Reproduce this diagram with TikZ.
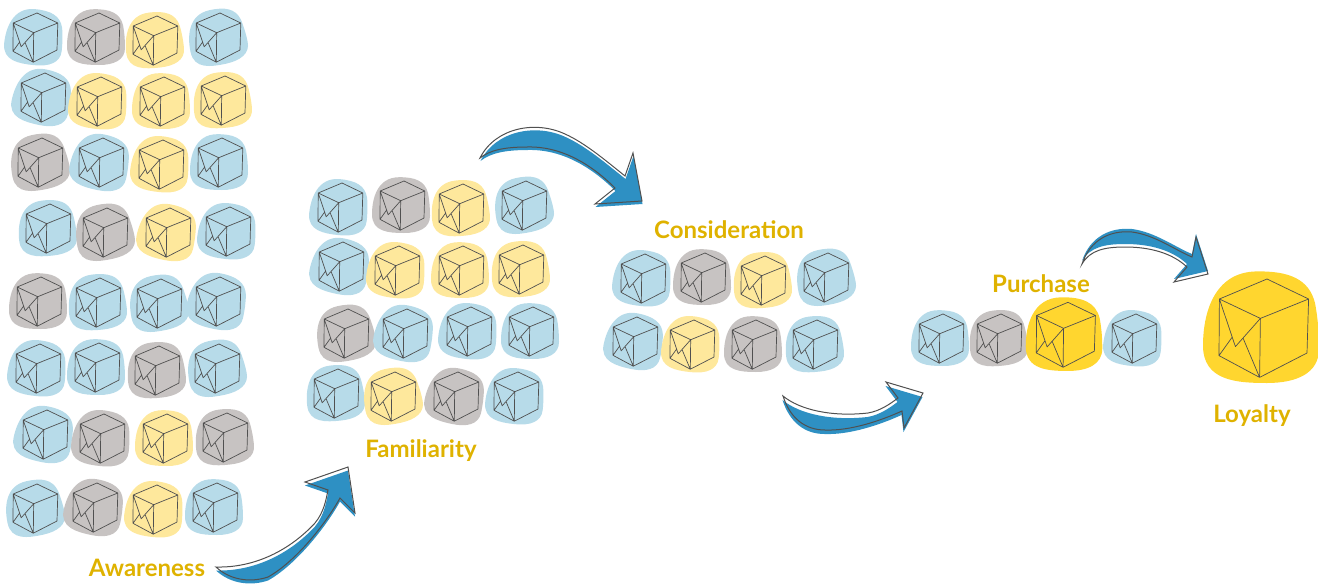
\documentclass[tikz,border=0pt]{standalone}
\usepackage{fontspec}
\setmainfont{Lato}
\definecolor{softblue}{HTML}{B7DBE9}
\definecolor{softgray}{HTML}{C7C3C2}
\definecolor{softyellow}{HTML}{FEE89C}
\definecolor{richyellow}{HTML}{FFD62F}
\definecolor{swooshblue}{HTML}{2E90C3}
\definecolor{labelgold}{HTML}{DFB200}
\definecolor{inkgray}{HTML}{505050}
\newcommand{\parcel}[5]{%
  \begin{scope}[shift={(#1,#2)},scale=#4]
    \fill[#3,rotate={#5}] (-2,-27.8) .. controls (14,-28) and (24,-24) .. (27,-12) .. controls (28.5,-4) and (29,3) .. (29,11) .. controls (29,23) and (18,28) .. (3,28) .. controls (-12,28) and (-29,27) .. (-29,9.3) .. controls (-29,-6) and (-24,-27.6) .. cycle;
    \draw[cubeline] (-20.8,-14) -- (3,-24) -- (23.8,-14) -- (-0.3,-4.3) -- cycle
      (23.8,-14) -- (23,13) -- (-0.7,25.2) -- (-21,14.3) -- (-20.8,-14)
      (-0.3,-4.3) -- (-0.7,25.2)
      (-20.8,-14) -- (-12.8,9.8) -- (-0.3,-4.3)
      (-21,14.3) -- (-14.5,5.2)
      (-9,5.5) -- (-0.7,25.2);
  \end{scope}
}
\newcommand{\swoosh}[3]{%
  \fill[white] #1;
  \fill[swooshblue,shift={(#2,#3)}] #1;
  \draw[swooshline] #1;
}
\begin{document}
\begin{tikzpicture}[
      x=1pt,y=-1pt,
      cubeline/.style={draw=inkgray,line width=0.7pt,line join=round},
      swooshline/.style={draw=inkgray,line width=1pt,line join=miter},
      stage/.style={font=\fontsize{24}{28}\selectfont\bfseries,text=labelgold,inner sep=0pt}
    ]
      \useasboundingbox (0,0) rectangle (1318,584);
      % awareness
      \foreach \px/\py/\col [count=\n] in {
        34/37/softblue,96/37/softgray,154/40/softyellow,217/37/softblue,
        42/97/softblue,98/101/softyellow,161/101/softyellow,222/100/softyellow,
        39/162/softgray,100/162/softblue,160/164/softyellow,219/162/softblue,
        47/228/softblue,104/232/softgray,167/232/softyellow,227/231/softblue,
        38/301/softgray,97/302/softblue,158/303/softblue,217/301/softblue,
        37/368/softblue,96/367/softblue,156/370/softgray,216/368/softblue,
        44/434/softblue,101/438/softgray,164/438/softyellow,224/437/softgray,
        34/508/softblue,94/507/softgray,154/509/softyellow,214/507/softblue}
        {\parcel{\px}{\py}{\col}{1}{6*(mod(\n,5)-2)}}
      % familiarity
      \foreach \px/\py/\col [count=\n] in {
        339/207/softblue,401/205/softgray,460/208/softyellow,523/205/softblue,
        340/266/softblue,396/270/softyellow,460/270/softyellow,520/269/softyellow,
        345/333/softgray,404/333/softblue,468/331/softblue,530/331/softblue,
        335/393/softblue,392/396/softyellow,455/396/softgray,515/396/softblue}
        {\parcel{\px}{\py}{\col}{1}{6*(mod(\n,5)-2)}}
      % consideration
      \foreach \px/\py/\col [count=\n] in {
        642/278/softblue,702/277/softgray,762/280/softyellow,825/277/softblue,
        634/341/softblue,691/344/softyellow,753/344/softgray,814/344/softblue}
        {\parcel{\px}{\py}{\col}{1}{6*(mod(\n,5)-2)}}
      % purchase
      \parcel{940}{338}{softblue}{1}{0}
      \parcel{998}{338}{softgray}{1}{6}
      \parcel{1064}{334}{richyellow}{1.32}{0}
      \parcel{1133}{338}{softblue}{1}{-6}
      % loyalty
      \parcel{1261}{327}{richyellow}{2}{0}
      % swooshes
      \swoosh{(216,567) .. controls (255,568) and (290,550) .. (315,523) .. controls (324,512) and (326,500) .. (328,490) -- (305,482) -- (348,467) -- (355,513) -- (340,498) .. controls (325,525) and (295,562) .. (268,577) .. controls (250,583) and (230,580) .. cycle}{0}{3.5}
      \swoosh{(480,158) .. controls (495,128) and (535,120) .. (565,134) .. controls (585,143) and (605,160) .. (625,176) -- (633,153) -- (642,201) -- (595,204) -- (615,188) .. controls (590,163) and (560,146) .. (527,147) .. controls (505,147) and (490,150) .. cycle}{0.5}{3}
      \swoosh{(783,396) .. controls (800,410) and (832,417) .. (868,413) .. controls (880,411) and (890,404) .. (898,398) -- (886,382) -- (923,393) -- (904,428) -- (902,411) .. controls (880,421) and (850,431) .. (825,430) .. controls (805,430) and (790,418) .. cycle}{-0.5}{4}
      \swoosh{(1082,264) .. controls (1090,240) and (1110,230) .. (1132,232) .. controls (1155,235) and (1175,250) .. (1192,257) -- (1196,237) -- (1208,274) -- (1174,282) -- (1187,267) .. controls (1172,253) and (1150,247) .. (1125,247) .. controls (1105,247) and (1090,250) .. cycle}{0}{-3}
      % labels
      \node[stage] (awareness) at (147,568) {Awareness};
      \node[stage] (familiarity) at (421,451) {Familiarity};
      \node[stage] (consideration) at (729,230) {Consideration};
      \node[stage] (purchase) at (1041,284) {Purchase};
      \node[stage] (loyalty) at (1252,416) {Loyalty};
    \end{tikzpicture}
\end{document}
